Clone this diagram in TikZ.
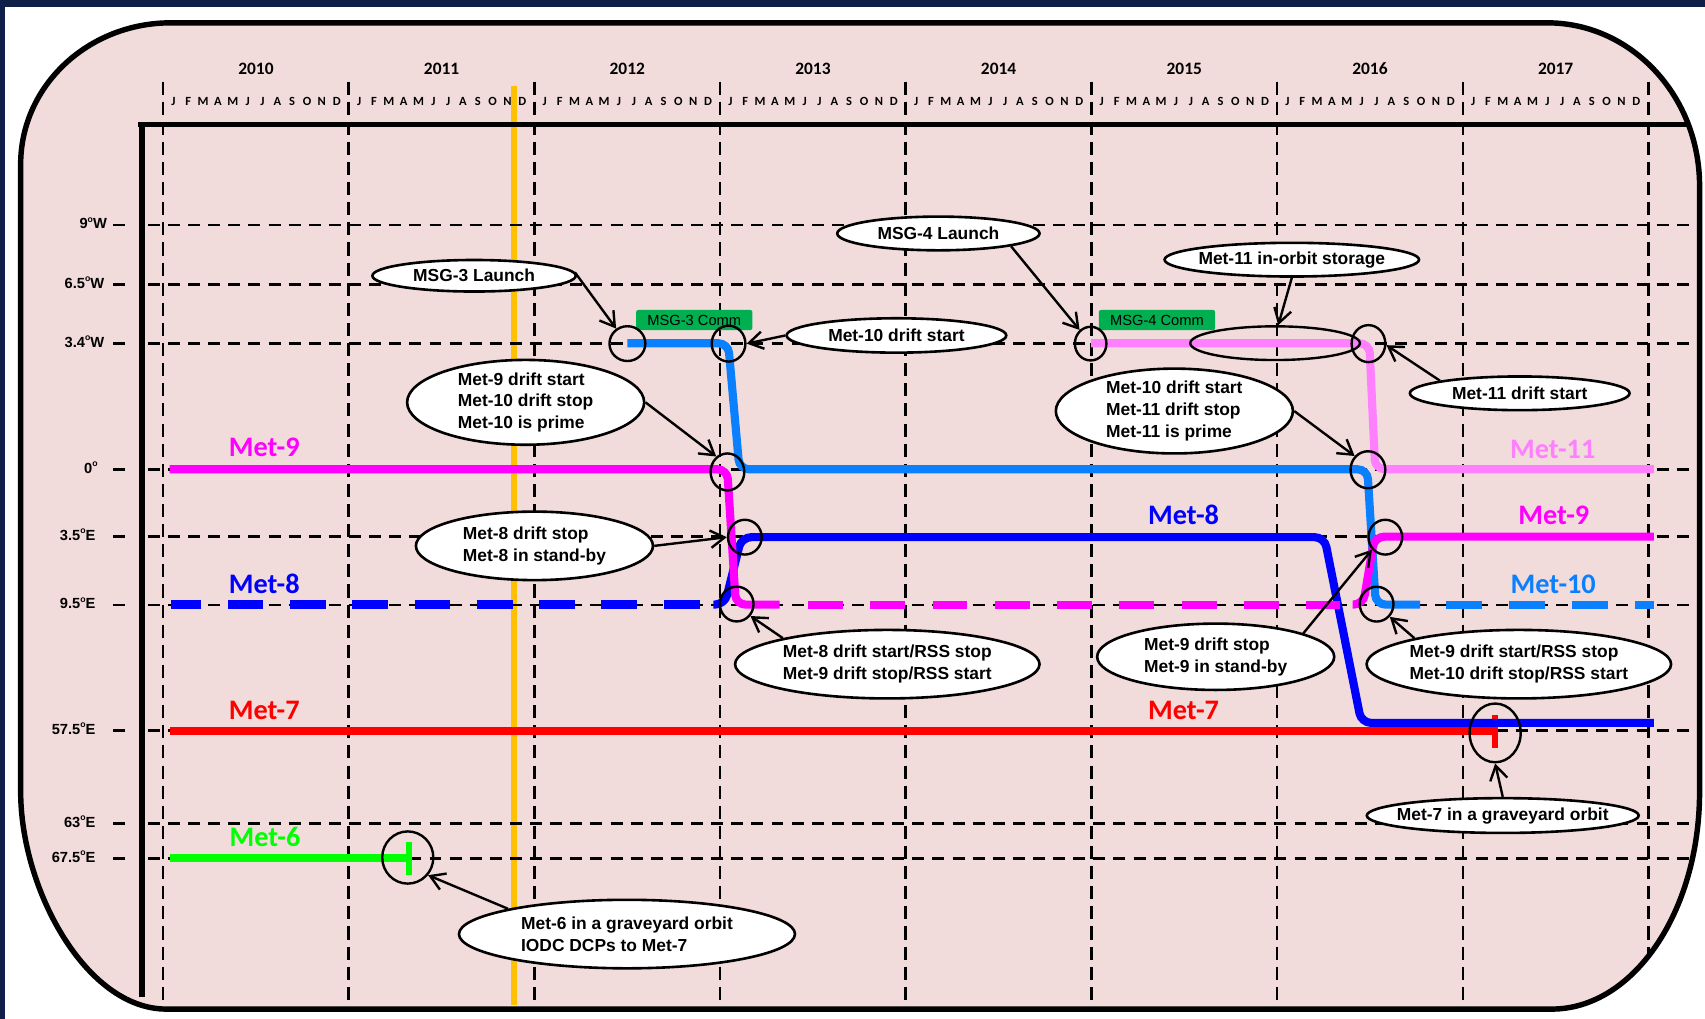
\documentclass[tikz,border=0pt]{standalone}
\usepackage{fontspec}
\setmainfont{Liberation Sans}
\newfontfamily\calibrifont{Carlito}
\usetikzlibrary{arrows.meta,shapes.geometric}
\definecolor{navyc}{HTML}{0F1F48}
\definecolor{pinkbg}{HTML}{F2DCDB}
\definecolor{yellowc}{HTML}{FFC000}
\definecolor{magc}{HTML}{FF00FF}
\definecolor{lpinkc}{HTML}{FF80FF}
\definecolor{dbluec}{HTML}{0000FF}
\definecolor{lbluec}{HTML}{0A80FF}
\definecolor{redc}{HTML}{FF0000}
\definecolor{greenc}{HTML}{00FF00}
\definecolor{commc}{HTML}{00B050}
\newcommand{\degsym}{\raisebox{0.45em}{\fontsize{8}{8}\selectfont o}}
\begin{document}
\begin{tikzpicture}[x=1pt,y=-1pt,
  sat/.style={line width=7.5pt},
  gridh/.style={line width=2.4pt, dash pattern=on 11pt off 7.5pt},
  gridv/.style={line width=2.4pt, dash pattern=on 12pt off 6.5pt},
  ring/.style={draw=black, ellipse, line width=2.2pt, inner sep=0pt},
  callout/.style={draw=black, fill=white, ellipse, line width=2.4pt, inner sep=0pt},
  ctext/.style={font=\bfseries\fontsize{16}{20}\selectfont, align=left, inner sep=0pt},
  conn/.style={line width=2.2pt, -{Straight Barb[length=13pt,width=16pt]}},
  satlab/.style={font=\calibrifont\bfseries\fontsize{26}{26}\selectfont, anchor=base, inner sep=0pt},
  yearlab/.style={font=\calibrifont\bfseries\fontsize{16}{16}\selectfont, anchor=base, inner sep=0pt},
  monlab/.style={font=\calibrifont\bfseries\fontsize{11.5}{11.5}\selectfont, anchor=base, inner sep=0pt},
  axlab/.style={font=\bfseries\fontsize{13.5}{13.5}\selectfont, anchor=base east, inner sep=0pt},
  comm/.style={fill=commc, rounded corners=2pt, minimum width=107pt, minimum height=18.5pt, inner sep=0pt, font=\fontsize{13.5}{13.5}\selectfont},
]
\useasboundingbox (0,0) rectangle (1568,937);
% page background and dark frame
\fill[white] (0,0) rectangle (1568,937);
\fill[navyc] (0,0) rectangle (1568,6.7);
\fill[navyc] (0,0) rectangle (4.2,937);
% pink rounded panel
\fill[pinkbg] (19,151) .. controls (19,79.2) and (80.8,21) .. (157,21) -- (1423,21)
  .. controls (1500.3,21) and (1563,88.2) .. (1563,171) -- (1563,728)
  .. controls (1563,838.5) and (1502.1,928) .. (1427,928) -- (153,928)
  .. controls (79,928) and (19,817.5) .. (19,728) -- cycle;
\begin{scope}
\clip (19,151) .. controls (19,79.2) and (80.8,21) .. (157,21) -- (1423,21)
  .. controls (1500.3,21) and (1563,88.2) .. (1563,171) -- (1563,728)
  .. controls (1563,838.5) and (1502.1,928) .. (1427,928) -- (153,928)
  .. controls (79,928) and (19,817.5) .. (19,728) -- cycle;
% yellow "today" line
\draw[yellowc, line width=5.5pt] (473,79) -- (473,924.5);
% grid
\foreach \i in {0,...,8} \draw[gridv] ({150+170.75*\i},75) -- ({150+170.75*\i},940);
\foreach \yy in {207,261.5,315.7,431.6,493.5,556.4,672,757.2,789.3} {
  \draw[gridh] (136,\yy) -- (1575,\yy);
  \draw[line width=2.4pt] (104,\yy) -- (115,\yy);
}
% axes
\draw[line width=4.5pt] (127,114.3) -- (1575,114.3);
\draw[line width=5pt] (130.5,112) -- (130.5,916.6);
% time axis labels
\foreach \yr [count=\i from 0] in {2010,2011,2012,2013,2014,2015,2016,2017}
  \node[yearlab] (yr\yr) at ({150+170.75*(\i+0.5)},68.5) {\yr};
\foreach \i in {0,...,7} {
  \foreach \m [count=\j from 0] in {J,F,M,A,M,J,J,A,S,O,N,D} {
    \node[monlab] (mo-\i-\j) at ({150+170.75*\i+9.5+13.65*\j},97) {\m};
  }
}
% longitude labels
\node[axlab] (ax1) at (98.5,210.5) {9\degsym W};
\node[axlab] (ax2) at (96,265) {6.5\degsym W};
\node[axlab] (ax3) at (96,319.2) {3.4\degsym W};
\node[axlab] (ax4) at (90,435.1) {0\degsym};
\node[axlab] (ax5) at (88,497) {3.5\degsym E};
\node[axlab] (ax6) at (88,559.9) {9.5\degsym E};
\node[axlab] (ax7) at (88,675.5) {57.5\degsym E};
\node[axlab] (ax8) at (88,760.7) {63\degsym E};
\node[axlab] (ax9) at (88,792.8) {67.5\degsym E};
% satellite tracks
\draw[sat, redc] (156,672) -- (1375,672);
\draw[redc, line width=5pt] (1375,657.5) -- (1375,688);
\draw[sat, greenc] (156,789.3) -- (376,789.3);
\draw[greenc, line width=5pt] (376,774) -- (376,805);
\draw[sat, lpinkc, rounded corners=9pt] (1003.5,315.7) -- (1259.3,315.7) -- (1264.7,431.6) -- (1521,431.6);
\draw[sat, lbluec, rounded corners=9pt] (577,315.7) -- (669.7,315.7) -- (680,431.6) -- (1257.5,431.6) -- (1265.2,556) -- (1306,556);
\draw[sat, lbluec, dash pattern=on 33pt off 25pt] (1330,556) -- (1521,556);
\draw[sat, dbluec, line width=8pt, dash pattern=on 33pt off 24.3pt, dash phase=5pt] (157,556) -- (643.5,556);
\draw[sat, dbluec, rounded corners=9pt] (656,556) -- (666.5,556) -- (681.9,494) -- (1218,494) -- (1252,664.8) -- (1521,664.8);
\draw[sat, magc, rounded corners=9pt] (156,431.6) -- (668.8,431.6) -- (676.7,556) -- (717,556);
\draw[sat, magc, dash pattern=on 32pt off 25.3pt] (743,556) -- (1232,556);
\draw[sat, magc, rounded corners=9pt] (1244,556) -- (1253.6,556) -- (1264.1,493.5) -- (1521,493.5);
% commissioning boxes
\node[comm] (cm3) at (638.5,294.3) {MSG-3 Comm};
\node[comm] (cm4) at (1064,294.3) {MSG-4 Comm};
% event rings
\node[ring, minimum width=33pt, minimum height=32pt] (k1) at (577,316) {};
\node[ring, minimum width=31pt, minimum height=33pt] (k2) at (670,316) {};
\node[ring, minimum width=31pt, minimum height=34pt] (k3) at (669,434) {};
\node[ring, minimum width=31pt, minimum height=32pt] (k4) at (685,494) {};
\node[ring, minimum width=31pt, minimum height=32pt] (k5) at (677.5,555.5) {};
\node[ring, minimum width=29pt, minimum height=31pt] (k6) at (1003,316) {};
\node[ring, minimum width=156pt, minimum height=31pt] (k7) at (1172.6,315.6) {};
\node[ring, minimum width=31pt, minimum height=34pt] (k8) at (1258.5,316) {};
\node[ring, minimum width=32pt, minimum height=34pt] (k9) at (1258,432) {};
\node[ring, minimum width=31pt, minimum height=32pt] (k10) at (1274,494) {};
\node[ring, minimum width=31pt, minimum height=32pt] (k11) at (1266,555.6) {};
\node[ring, minimum width=47pt, minimum height=54pt] (k12) at (1375,674) {};
\node[ring, minimum width=47pt, minimum height=48pt] (k13) at (375,788.6) {};
% callouts
\node[callout, minimum width=187pt, minimum height=29pt] (c1) at (436,253.6) {};
\node[ctext] (t1) at (c1) {MSG-3 Launch};
\node[callout, minimum width=186pt, minimum height=31pt] (c2) at (863,214.7) {};
\node[ctext] (t2) at (c2) {MSG-4 Launch};
\node[callout, minimum width=234pt, minimum height=31pt] (c3) at (1188,238.8) {};
\node[ctext] (t3) at (c3) {Met-11 in-orbit storage};
\node[callout, minimum width=202pt, minimum height=31.6pt] (c4) at (824.4,308.5) {};
\node[ctext] (t4) at (c4) {Met-10 drift start};
\node[callout, minimum width=218pt, minimum height=78pt] (c5) at (483.4,370) {};
\node[ctext] (t5) at (c5) {Met-9 drift start\\Met-10 drift stop\\Met-10 is prime};
\node[callout, minimum width=218pt, minimum height=78pt] (c6) at (1080,378) {};
\node[ctext] (t6) at (c6) {Met-10 drift start\\Met-11 drift stop\\Met-11 is prime};
\node[callout, minimum width=202pt, minimum height=31pt] (c7) at (1397.6,361.7) {};
\node[ctext] (t7) at (c7) {Met-11 drift start};
\node[callout, minimum width=218pt, minimum height=63pt] (c8) at (491.5,502) {};
\node[ctext] (t8) at (c8) {Met-8 drift stop\\Met-8 in stand-by};
\node[callout, minimum width=280pt, minimum height=63pt] (c9) at (816,610.8) {};
\node[ctext] (t9) at (c9) {Met-8 drift start/RSS stop\\Met-9 drift stop/RSS start};
\node[callout, minimum width=218pt, minimum height=61pt] (c10) at (1118,604) {};
\node[ctext] (t10) at (c10) {Met-9 drift stop\\Met-9 in stand-by};
\node[callout, minimum width=280pt, minimum height=63pt] (c11) at (1396.8,610.8) {};
\node[ctext] (t11) at (c11) {Met-9 drift start/RSS stop\\Met-10 drift stop/RSS start};
\node[callout, minimum width=250pt, minimum height=32pt] (c12) at (1382,750) {};
\node[ctext] (t12) at (c12) {Met-7 in a graveyard orbit};
\node[callout, minimum width=309pt, minimum height=63pt] (c13) at (576.6,859) {};
\node[ctext] (t13) at (c13) {Met-6 in a graveyard orbit\\IODC DCPs to Met-7};
% callout connectors
\draw[conn] (c1.2) -- (k1.127);
\draw[conn] (c2.-10) -- (k6.129);
\draw[conn] (c3.south) -- (k7.80);
\draw[conn] (c4.west) -- (k2.east);
\draw[conn] (c5.east) -- (k3.126);
\draw[conn] (c6.east) -- (k9.134);
\draw[conn] (c7.171) -- (k8.-5);
\draw[conn] (c8.east) -- (k4.west);
\draw[conn] (c9.166) -- (k5.-41);
\draw[conn] (c10.15) -- (k10.-137);
\draw[conn] (c11.166) -- (k11.-44);
\draw[conn] (c12.north) -- (k12.south);
\draw[conn] (c13.168) -- (k13.-41);
% satellite names
\node[satlab, text=magc] (n9a) at (243,420) {Met-9};
\node[satlab, text=dbluec] (n8a) at (243,545.6) {Met-8};
\node[satlab, text=redc] (n7a) at (243,661.5) {Met-7};
\node[satlab, text=greenc] (n6) at (243.7,778.6) {Met-6};
\node[satlab, text=dbluec] (n8b) at (1088.5,482.8) {Met-8};
\node[satlab, text=redc] (n7b) at (1088.5,661.7) {Met-7};
\node[satlab, text=lpinkc] (n11) at (1428,421.5) {Met-11};
\node[satlab, text=magc] (n9b) at (1429,482.8) {Met-9};
\node[satlab, text=lbluec] (n10) at (1428.4,545.6) {Met-10};
\end{scope}
% panel border
\draw[line width=5pt] (19,151) .. controls (19,79.2) and (80.8,21) .. (157,21) -- (1423,21)
  .. controls (1500.3,21) and (1563,88.2) .. (1563,171) -- (1563,728)
  .. controls (1563,838.5) and (1502.1,928) .. (1427,928) -- (153,928)
  .. controls (79,928) and (19,817.5) .. (19,728) -- cycle;
\end{tikzpicture}
\end{document}
